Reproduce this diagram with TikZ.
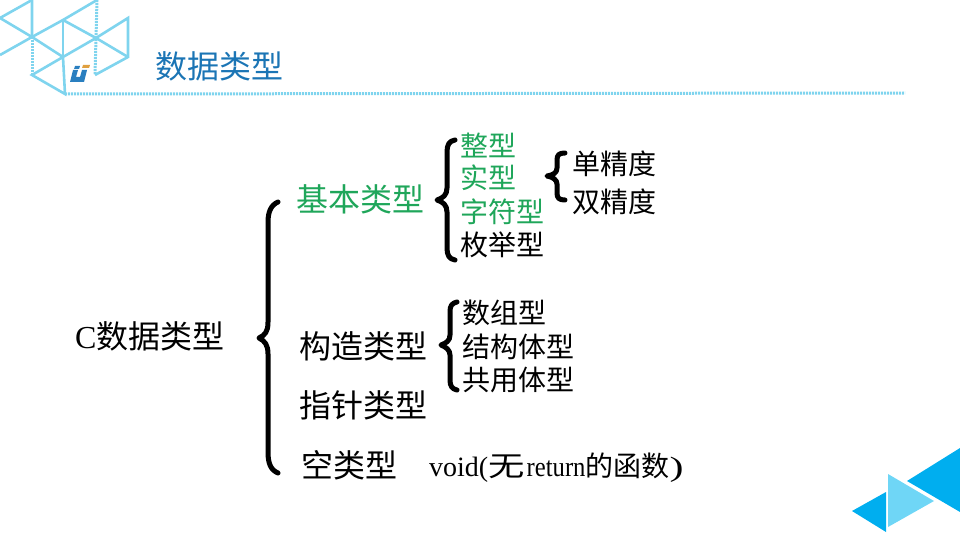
\documentclass[tikz,border=0pt]{standalone}
\usepackage{fontspec}
\setmainfont{Liberation Serif}
\newfontfamily\cjk{Noto Sans CJK SC}
\definecolor{linecyan}{HTML}{7FD4EE}
\definecolor{titleblue}{HTML}{1B75B5}
\definecolor{greentxt}{HTML}{1FA65A}
\definecolor{deepcyan}{HTML}{00AEEF}
\definecolor{palecyan}{HTML}{6FD6F6}
\definecolor{logoblue}{HTML}{2A7FC0}
\definecolor{logoorange}{HTML}{E0A040}
\tikzset{
  lab/.style={anchor=west,inner sep=0pt,font=\cjk\fontsize{28}{28}\selectfont},
  labbig/.style={anchor=west,inner sep=0pt,font=\cjk\fontsize{32}{32}\selectfont},
  brc/.style={draw=black,line width=5pt,line cap=round,line join=round},
  geo/.style={draw=linecyan,line width=2.6pt},
  geodash/.style={draw=linecyan,line width=3pt,dash pattern=on 2pt off 1pt}
}
\begin{document}
\begin{tikzpicture}[x=1pt,y=-1pt]
\useasboundingbox (0,0) rectangle (960,540);
% logo lattice
\draw[geo] (32,0)--(0,18)--(32,37)--(63,57)--(65,94)--(32,75)--(63,57)--(96,38)--(128,18)--(128,57)--(95,75);
\draw[geo] (32,0)--(32,37)--(0,55);
\draw[geo] (32,37)--(63,20)--(97,0);
\draw[geo] (63,20)--(63,57);
\draw[geo] (63,20)--(96,38)--(128,57);
\draw[geodash] (97,0)--(96,38)--(95,75);
\draw[geodash] (32,37)--(32,75);
\draw[geodash] (65,94)--(905,93);
% logo mark
\fill[logoblue] (73,70)--(78,70)--(76,77)--(80,77)--(82,70)--(87,70)--(84,82)--(70,82)--cycle;
\fill[logoblue] (75,66)--(80,66)--(79,69)--(74,69)--cycle;
\fill[logoorange] (83,65)--(90,65)--(89,68)--(82,68)--cycle;
% corner triangles
\fill[deepcyan] (907,481)--(960,448)--(960,512)--cycle;
\fill[deepcyan] (852,511)--(886,492)--(886,532)--cycle;
\fill[palecyan] (888,474)--(934,501)--(888,527)--cycle;
% texts
\node[labbig,text=titleblue] (title) at (155,66) {数据类型};
\node[anchor=west,inner sep=0pt,font=\fontsize{32}{32}\selectfont] (root) at (75,336) {C{\cjk 数据类型}};
\node[labbig,text=greentxt] (basic) at (296,199) {基本类型};
\node[lab,text=greentxt] (int) at (460,145) {整型};
\node[lab,text=greentxt] (real) at (460,178) {实型};
\node[lab,text=greentxt] (char) at (460,212) {字符型};
\node[lab] (enum) at (460,245) {枚举型};
\node[lab] (single) at (572,164) {单精度};
\node[lab] (double) at (572,202) {双精度};
\node[labbig] (struct) at (299,346) {构造类型};
\node[lab] (arr) at (462,313) {数组型};
\node[lab] (stc) at (462,347) {结构体型};
\node[lab] (uni) at (462,380) {共用体型};
\node[labbig] (ptr) at (299,405) {指针类型};
\node[labbig] (void) at (301,465) {空类型};
\node[anchor=west,inner sep=0pt,font=\fontsize{28}{28}\selectfont] (voidnote) at (429,468) {void(\scalebox{1.3}[1]{\cjk 无}\kern2pt\scalebox{.88}[1]{return}{\cjk 的函数}\scalebox{1.5}[1]{)}};
% braces
\draw[brc] (278,202) .. controls (271,205) and (268,212) .. (268,222) -- (268,322) .. controls (268,332) and (265,335) .. (259,338) .. controls (265,341) and (268,345) .. (268,354) -- (268,452) .. controls (268,464) and (271,470) .. (278,473);
\draw[brc] (455,140) .. controls (449,141) and (447,145) .. (447,152) -- (447,188) .. controls (447,195) and (443,198) .. (437,200) .. controls (443,202) and (447,205) .. (447,212) -- (447,248) .. controls (447,255) and (449,259) .. (455,260);
\draw[brc] (565,153) .. controls (559,153) and (557,155) .. (557,160) -- (557,168) .. controls (557,173) and (553,175) .. (547,176) .. controls (553,177) and (557,180) .. (557,184) -- (557,193) .. controls (557,198) and (559,200) .. (565,200);
\draw[brc] (457,302) .. controls (452,303) and (450,306) .. (450,311) -- (450,335) .. controls (450,341) and (446,343) .. (441,345) .. controls (446,347) and (450,350) .. (450,355) -- (450,380) .. controls (450,386) and (452,389) .. (457,390);
\end{tikzpicture}
\end{document}
